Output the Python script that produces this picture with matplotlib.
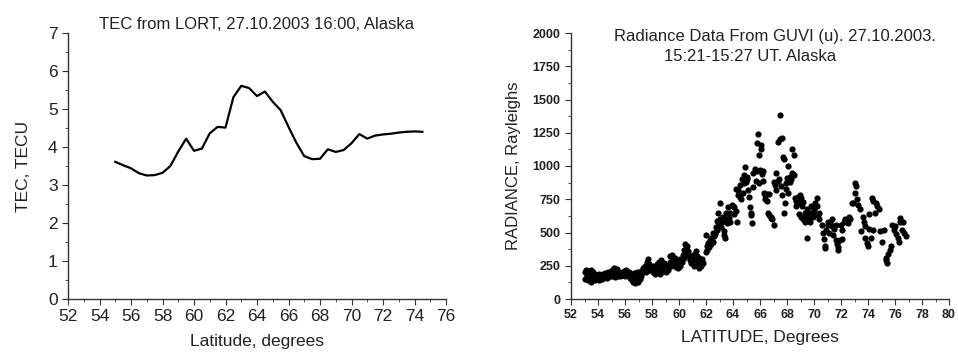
"""
TEC from LORT and GUVI radiance, Alaska 27.10.2003
"""
import matplotlib
matplotlib.use('Agg')
import matplotlib.pyplot as plt
from matplotlib.ticker import MultipleLocator

plt.rcParams['font.family'] = ['Liberation Sans', 'DejaVu Sans']

# TEC profile (left panel)
tec_lat = [55.0, 55.5, 56.0, 56.5, 57.0, 57.5, 58.0, 58.5, 59.0, 59.5,
           60.0, 60.5, 61.0, 61.5, 62.0, 62.5, 63.0, 63.5, 64.0, 64.5,
           65.0, 65.5, 66.0, 66.5, 67.0, 67.5, 68.0, 68.5, 69.0, 69.5,
           70.0, 70.5, 71.0, 71.5, 72.0, 72.5, 73.0, 73.5, 74.0, 74.5]
tec_val = [3.61, 3.52, 3.44, 3.31, 3.25, 3.26, 3.32, 3.50, 3.88, 4.22,
           3.90, 3.96, 4.36, 4.53, 4.51, 5.31, 5.61, 5.55, 5.34, 5.46,
           5.19, 4.97, 4.53, 4.11, 3.76, 3.68, 3.69, 3.94, 3.87, 3.92,
           4.10, 4.34, 4.22, 4.30, 4.33, 4.35, 4.38, 4.40, 4.41, 4.40]

# GUVI radiance points (right panel)
rad_lat_1 = [53.0, 53.05, 53.1, 53.15, 53.2, 53.25, 53.3, 53.35, 53.4, 53.45,
             53.5, 53.55, 53.6, 53.65, 53.7, 53.75, 53.8, 53.85, 53.9, 54.0,
             54.05, 54.1, 54.15, 54.2, 54.3, 54.35, 54.4, 54.5, 54.55, 54.6,
             54.7, 54.75, 54.8, 54.9, 55.0, 55.05, 55.1, 55.15, 55.2, 55.25,
             55.3, 55.35, 55.4, 55.45, 55.5, 55.6, 55.65, 55.7, 55.8, 55.85,
             55.9, 56.0, 56.05, 56.1, 56.2, 56.3, 56.4, 56.45, 56.5, 56.55,
             56.6, 56.65, 56.7, 56.75, 56.8, 56.85, 56.9, 56.95, 57.0, 57.05,
             57.1, 57.15, 57.2]
rad_val_1 = [150, 200, 215, 170, 190, 145, 210, 180, 160, 220,
             130, 175, 200, 150, 190, 165, 140, 180, 155, 170,
             145, 190, 160, 175, 150, 185, 165, 195, 170, 180,
             160, 200, 185, 175, 220, 170, 195, 230, 180, 165,
             210, 190, 225, 175, 200, 185, 170, 195, 180, 200,
             210, 175, 220, 190, 180, 200, 160, 185, 140, 170,
             130, 195, 150, 120, 175, 140, 200, 125, 160, 185,
             150, 210, 170]

rad_lat_2 = [57.3, 57.35, 57.4, 57.5, 57.55, 57.6, 57.65, 57.7, 57.75, 57.8,
             57.9, 58.0, 58.05, 58.1, 58.2, 58.25, 58.3, 58.4, 58.45, 58.5,
             58.55, 58.6, 58.7, 58.75, 58.8, 58.9, 59.0, 59.05, 59.1, 59.2,
             59.3, 59.35, 59.4, 59.5, 59.55, 59.6, 59.7, 59.75, 59.8, 59.9,
             60.0, 60.05, 60.1, 60.2, 60.3, 60.35, 60.4, 60.45, 60.5, 60.55,
             60.6, 60.7, 60.75, 60.8, 60.9, 61.0, 61.05, 61.1, 61.2, 61.25,
             61.3, 61.4, 61.45, 61.5, 61.55, 61.6, 61.7, 61.8]
rad_val_2 = [200, 230, 215, 250, 205, 280, 240, 300, 220, 260,
             230, 215, 250, 200, 240, 190, 220, 260, 200, 280,
             230, 190, 290, 250, 210, 270, 230, 200, 250, 215,
             280, 320, 250, 330, 290, 260, 310, 240, 280, 230,
             260, 300, 250, 280, 330, 370, 310, 410, 380, 340,
             395, 360, 320, 290, 270, 330, 300, 250, 290, 360,
             320, 270, 230, 310, 280, 250, 300, 270]

rad_lat_3 = [62.0, 62.0, 62.05, 62.1, 62.15, 62.2, 62.3, 62.35, 62.4, 62.5,
             62.55, 62.6, 62.7, 62.75, 62.8, 62.85, 62.9, 62.95, 63.0, 63.05,
             63.1, 63.2, 63.25, 63.3, 63.35, 63.4, 63.45, 63.5, 63.55, 63.6,
             63.7, 63.75, 63.8, 63.9, 64.0, 64.05, 64.1, 64.2, 64.25, 64.3,
             64.35, 64.4, 64.5, 64.55, 64.6, 64.7, 64.75, 64.8, 64.85, 64.9,
             64.95, 65.0, 65.05]
rad_val_3 = [350, 480, 400, 370, 420, 390, 440, 410, 460, 430,
             500, 470, 490, 540, 590, 520, 650, 560, 600, 720,
             540, 580, 620, 510, 480, 460, 650, 600, 570, 690,
             610, 650, 580, 710, 700, 640, 690, 660, 830, 580,
             780, 820, 770, 860, 750, 900, 800, 930, 870, 990,
             880, 920, 900]

rad_lat_4 = [65.1, 65.2, 65.25, 65.3, 65.35, 65.4, 65.45, 65.5, 65.6, 65.7,
             65.75, 65.8, 65.85, 65.9, 65.95, 66.0, 66.05, 66.1, 66.15, 66.2,
             66.25, 66.3, 66.35, 66.4, 66.5, 66.55, 66.6, 66.65, 66.7, 66.8,
             66.85, 66.9, 67.0, 67.05, 67.1, 67.15, 67.2, 67.3, 67.35, 67.4,
             67.45, 67.5, 67.55, 67.6, 67.65, 67.7, 67.75, 67.8, 67.85, 67.9,
             67.95, 68.0, 68.05, 68.1, 68.2, 68.25, 68.3, 68.35, 68.4, 68.45,
             68.5, 68.55, 68.6, 68.65, 68.7, 68.8, 68.85, 68.9, 68.95]
rad_val_4 = [820, 770, 690, 650, 630, 570, 840, 950, 980, 890,
             960, 1170, 1240, 1080, 870, 970, 1160, 1130, 940, 960,
             890, 800, 780, 750, 740, 790, 650, 630, 790, 620,
             610, 600, 560, 880, 860, 950, 820, 890, 1180, 900,
             1200, 1380, 850, 1210, 780, 1070, 650, 1050, 720, 830,
             870, 910, 1000, 800, 880, 920, 900, 1130, 950, 940,
             1080, 930, 760, 740, 700, 770, 720, 640, 780]

rad_lat_5 = [69.0, 69.05, 69.1, 69.15, 69.2, 69.3, 69.35, 69.4, 69.45, 69.5,
             69.55, 69.6, 69.7, 69.75, 69.8, 69.9, 70.0, 70.05, 70.1, 70.2,
             70.25, 70.3, 70.35, 70.4, 70.6, 70.7, 70.75, 70.8, 70.85, 70.9,
             71.0, 71.05, 71.1, 71.2, 71.3, 71.35, 71.4, 71.5, 71.6, 71.65,
             71.7, 71.75, 71.8, 71.9, 72.0, 72.05, 72.1, 72.2, 72.3, 72.4,
             72.5, 72.6, 72.7, 72.8, 72.9, 73.0, 73.05, 73.1, 73.2, 73.25,
             73.4, 73.5, 73.6, 73.7, 73.75, 73.8, 73.9, 74.0, 74.05, 74.1,
             74.2, 74.3, 74.35, 74.4, 74.5, 74.6, 74.7, 74.8, 74.9, 75.0,
             75.15, 75.3, 75.35, 75.4, 75.5, 75.6, 75.7, 75.8, 75.9, 76.0,
             76.1, 76.2, 76.3, 76.35, 76.4, 76.5, 76.6, 76.7, 76.8]
rad_val_5 = [760, 620, 700, 600, 730, 650, 580, 620, 460, 680,
             600, 640, 580, 700, 650, 620, 680, 640, 720, 760,
             700, 630, 650, 600, 560, 500, 450, 380, 400, 520,
             580, 560, 500, 570, 600, 550, 480, 530, 560, 440,
             410, 390, 370, 440, 560, 520, 450, 580, 600, 590,
             570, 620, 600, 720, 720, 800, 870, 850, 750, 710,
             680, 510, 620, 580, 550, 460, 420, 400, 640, 530,
             460, 760, 740, 520, 650, 720, 700, 680, 510, 430,
             520, 310, 290, 270, 340, 370, 400, 560, 520, 550,
             490, 460, 430, 610, 580, 520, 580, 500, 470]

rad_lat = rad_lat_1 + rad_lat_2 + rad_lat_3 + rad_lat_4 + rad_lat_5
rad_val = rad_val_1 + rad_val_2 + rad_val_3 + rad_val_4 + rad_val_5

axis_col = '#333333'
text_col = '#222222'

fig = plt.figure(figsize=(9.58, 3.52), dpi=100)
ax1 = fig.add_axes([68 / 958, 53 / 352, 378 / 958, 266 / 352])
ax2 = fig.add_axes([571 / 958, 53 / 352, 378 / 958, 266 / 352])

# left panel
ax1.plot(tec_lat, tec_val, '-k', lw=1.6)
ax1.set_xlim(52, 76)
ax1.set_ylim(0, 7)
ax1.xaxis.set_major_locator(MultipleLocator(2))
ax1.xaxis.set_minor_locator(MultipleLocator(1))
ax1.yaxis.set_major_locator(MultipleLocator(1))
ax1.yaxis.set_minor_locator(MultipleLocator(0.5))
ax1.tick_params(which='both', direction='out', colors=axis_col, labelcolor=text_col,
                labelsize=12.5)
ax1.tick_params(which='major', length=4)
ax1.tick_params(which='minor', length=2.5)
ax1.set_title('TEC from LORT, 27.10.2003 16:00, Alaska', fontsize=12,
              color=text_col, pad=3)
ax1.set_xlabel('Latitude, degrees', fontsize=12.5, color=text_col, labelpad=7)
ax1.set_ylabel('TEC, TECU', fontsize=12.5, color=text_col, labelpad=12)

# right panel
ax2.scatter(rad_lat, rad_val, s=20, c='k', linewidths=0)
ax2.set_xlim(52, 80)
ax2.set_ylim(0, 2000)
ax2.xaxis.set_major_locator(MultipleLocator(2))
ax2.xaxis.set_minor_locator(MultipleLocator(1))
ax2.yaxis.set_major_locator(MultipleLocator(250))
ax2.yaxis.set_minor_locator(MultipleLocator(125))
ax2.tick_params(which='both', direction='out', colors=axis_col, labelcolor=text_col,
                labelsize=9)
ax2.tick_params(which='major', length=4)
ax2.tick_params(which='minor', length=2.5)
for lab in ax2.get_xticklabels() + ax2.get_yticklabels():
    lab.set_fontweight('bold')
ax2.text(0.54, 0.985, 'Radiance Data From GUVI (u). 27.10.2003.', transform=ax2.transAxes,
         ha='center', va='center', fontsize=12, color=text_col)
ax2.text(0.475, 0.91, '15:21-15:27 UT. Alaska', transform=ax2.transAxes,
         ha='center', va='center', fontsize=12, color=text_col)
ax2.set_xlabel('LATITUDE, Degrees', fontsize=12.5, color=text_col, labelpad=6)
ax2.set_ylabel('RADIANCE, Rayleighs', fontsize=12, color=text_col, labelpad=8)

for ax in (ax1, ax2):
    ax.spines['top'].set_visible(False)
    ax.spines['right'].set_visible(False)
    for sp in ('left', 'bottom'):
        ax.spines[sp].set_color(axis_col)
        ax.spines[sp].set_linewidth(1.0)

fig.savefig('out.png', dpi=100)
